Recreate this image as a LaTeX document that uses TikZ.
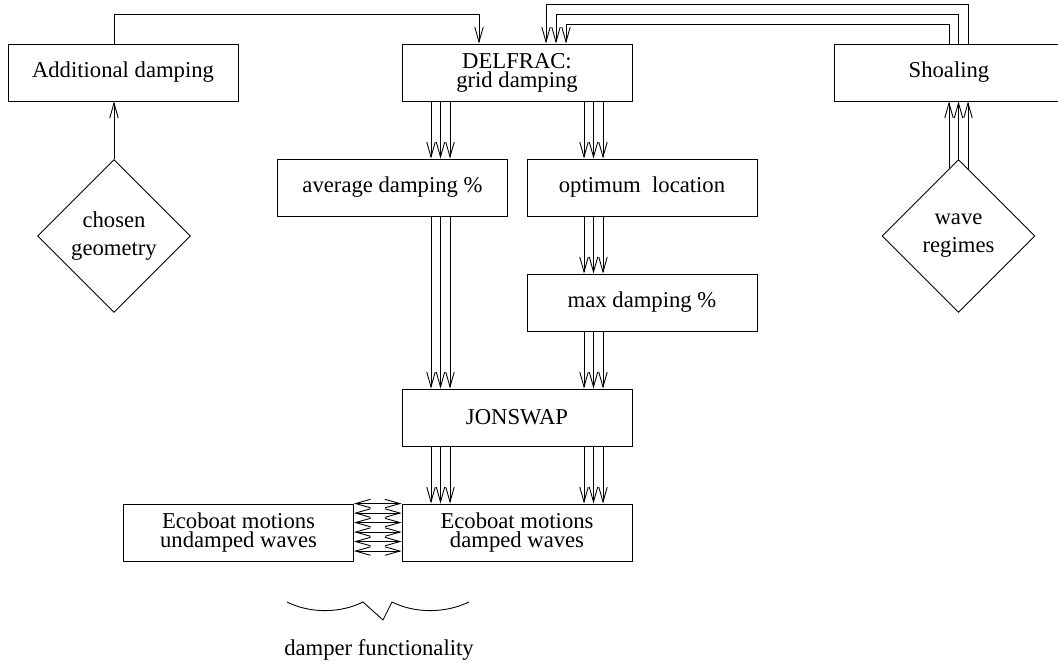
\documentclass[tikz,border=0pt]{standalone}
\usepackage{fontspec}
\setmainfont{Liberation Serif}
\usetikzlibrary{positioning,shapes.geometric,arrows.meta}

\begin{document}
\begin{tikzpicture}[node distance=2.3cm,
  font=\fontsize{12.9}{10.8}\selectfont,
  line width=0.5pt,
  >={Straight Barb[length=0.3cm,width=0.17cm]},
  box/.style={rectangle, minimum width=4.6cm, minimum height=1.14cm, text centered, align=center, draw=black},
  choice/.style={diamond, minimum size=3.06cm, inner sep=0pt, align=center, draw=black, font=\fontsize{12.9}{16}\selectfont}]
\useasboundingbox (0,0) rectangle (21.16,-13.32);

% Верхний ряд
\node (adddamp) [box] at (2.46,-1.45) {Additional damping};
\node (delfrac) [box, right of=adddamp, xshift=5.58cm] {DELFRAC:\\grid damping};
\node (shoal) [box, right of=delfrac, xshift=6.34cm] {Shoaling};

% Ромбы
\node (geom) [choice, below of=adddamp, yshift=-0.97cm, xshift=-0.18cm] {chosen\\geometry};
\node (waves) [choice, below of=shoal, yshift=-0.97cm, xshift=0.19cm] {wave\\regimes};

% Средний ряд
\node (avgdamp) [box, below of=delfrac, xshift=-2.49cm] {average damping \%};
\node (optloc) [box, below of=delfrac, xshift=2.5cm] {optimum\ \ location};
\node (maxdamp) [box, below of=optloc] {max damping \%};
\node (jonswap) [box, below of=maxdamp, xshift=-2.5cm] {JONSWAP};

% Нижний ряд
\node (damped) [box, below of=jonswap] {Ecoboat motions\\damped waves};
\node (undamped) [box, left of=damped, xshift=-3.27cm] {Ecoboat motions\\undamped waves};

% Связи
\draw[->] ([xshift=-0.18cm]adddamp.north) -- ++(0,0.58) -| ([xshift=-0.76cm]delfrac.north);
\draw[->] (geom) -- (geom |- adddamp.south);

\foreach \s/\d/\h in {0/0.98/0.38, 0.19/0.78/0.58, 0.38/0.58/0.78}
  \draw[->] ([xshift=\s cm]shoal.north) -- ++(0,\h) -| ([xshift=\d cm]delfrac.north);
\foreach \s/\c in {0/0.19, 0.19/0, 0.38/0.19}
  \draw[->] ([xshift=\s cm, yshift=-\c cm]shoal.south |- waves.north) -- ([xshift=\s cm]shoal.south);

\foreach \dx in {-1.72,-1.53,-1.34} {
  \draw[->] ([xshift=\dx cm]delfrac.south) -- ([xshift=\dx cm]delfrac.south |- avgdamp.north);
  \draw[->] ([xshift=\dx cm]delfrac.south |- avgdamp.south) -- ([xshift=\dx cm]jonswap.north);
}
\foreach \dx in {1.34,1.53,1.72} {
  \draw[->] ([xshift=\dx cm]delfrac.south) -- ([xshift=\dx cm]delfrac.south |- optloc.north);
  \draw[->] ([xshift=\dx cm]delfrac.south |- optloc.south) -- ([xshift=\dx cm]delfrac.south |- maxdamp.north);
  \draw[->] ([xshift=\dx cm]delfrac.south |- maxdamp.south) -- ([xshift=\dx cm]jonswap.north);
}
\foreach \dx in {-1.72,-1.53,-1.34,1.34,1.53,1.72}
  \draw[->] ([xshift=\dx cm]jonswap.south) -- ([xshift=\dx cm]damped.north);

\foreach \k in {0,...,5}
  \draw[<->] ([yshift={-0.19cm*\k}]undamped.north east) -- ([yshift={-0.19cm*\k}]damped.north west);

% Скобка
\draw (5.74,-12.04) .. controls (6.2,-12.27) and (6.8,-12.27) .. (7.26,-12.04) -- (7.66,-12.40) -- (7.84,-12.04)
  .. controls (8.3,-12.27) and (8.9,-12.27) .. (9.38,-12.04);
\node (dampfn) at (7.58,-13.0) {damper functionality};

\end{tikzpicture}
\end{document}
